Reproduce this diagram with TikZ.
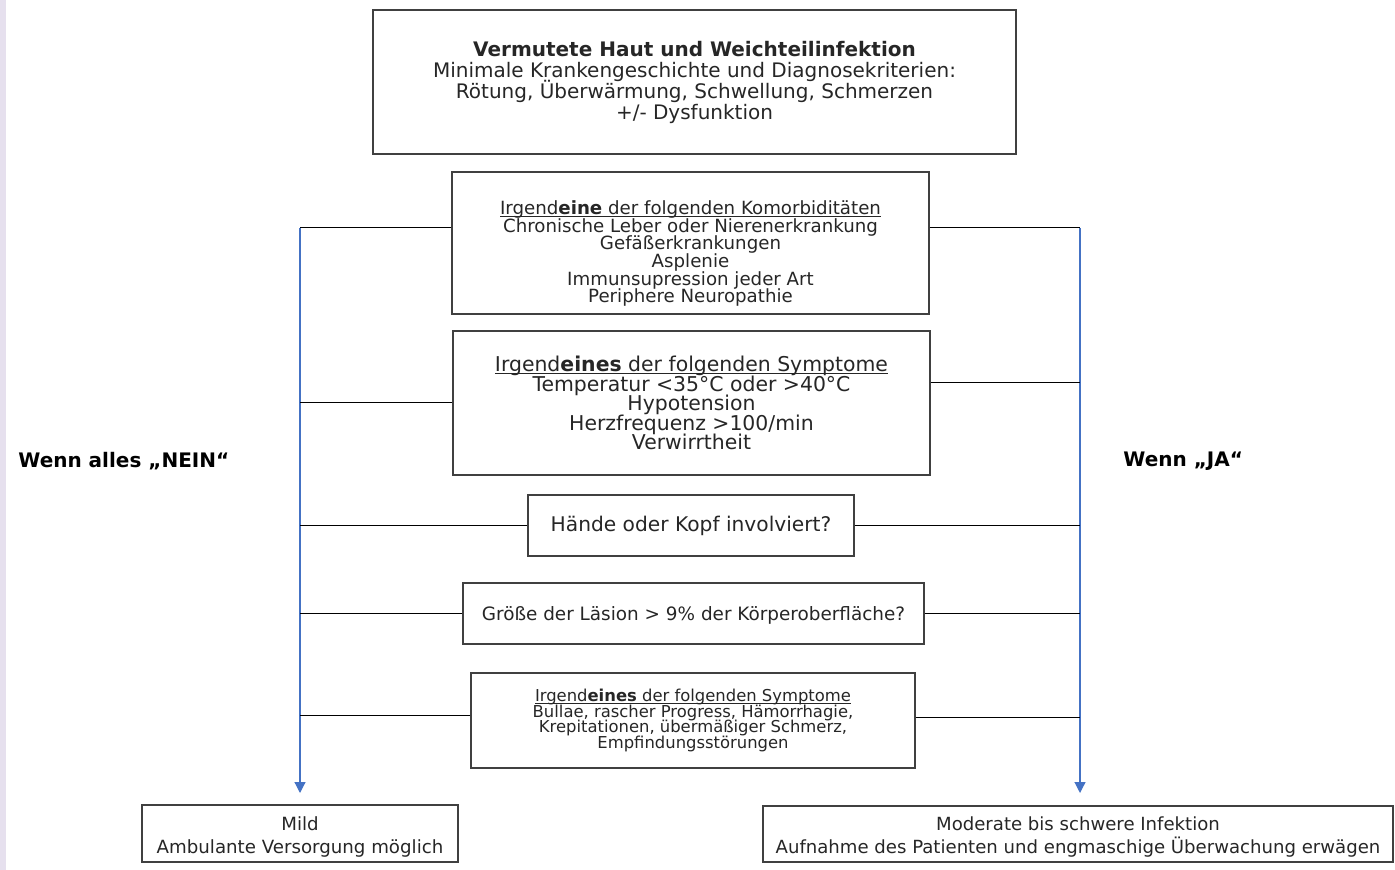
\documentclass[tikz,border=0pt]{standalone}
\usepackage{fontspec}
\setmainfont{DejaVu Sans}
\usetikzlibrary{arrows.meta,positioning}
\definecolor{arrblue}{HTML}{4472C4}
\definecolor{boxgray}{HTML}{404040}
\definecolor{sidebar}{HTML}{E6E0EE}
\setlength{\lineskiplimit}{-20pt}
\newcommand{\headul}[1]{\setbox0\hbox{#1}\rlap{\rule[-1.1pt]{\wd0}{0.5pt}}\box0}

\begin{document}
\begin{tikzpicture}[
  x=0.5pt,y=-0.5pt,
  box/.style={draw=boxgray,line width=0.7pt,align=center,inner sep=0pt,text=black!85},
  side/.style={font=\fontsize{10}{12}\selectfont\bfseries,inner sep=0pt,anchor=west},
  arr/.style={-{Triangle[length=5.5pt,width=5.5pt]},arrblue,line width=0.6pt},
  link/.style={black,line width=0.5pt}
]
\useasboundingbox (0,0) rectangle (1395,870);
\fill[sidebar] (0,0) rectangle (6,870);

% question boxes
\node[box,minimum width=321.5pt,minimum height=72pt,font=\fontsize{10}{10.5}\selectfont] (susp) at (694.5,82)
  {\textbf{Vermutete Haut und Weichteilinfektion}\\Minimale Krankengeschichte und Diagnosekriterien:\\Rötung, Überwärmung, Schwellung, Schmerzen\\+/- Dysfunktion};
\node[box,minimum width=238.5pt,minimum height=71pt,font=\fontsize{9.1}{8.8}\selectfont] (komorb) at (690.5,243)
  {\rule{0pt}{17.5pt}\headul{Irgend\textbf{eine} der folgenden Komorbiditäten}\\Chronische Leber oder Nierenerkrankung\\Gefäßerkrankungen\\Asplenie\\Immunsupression jeder Art\\Periphere Neuropathie};
\node[box,minimum width=238.5pt,minimum height=72pt,font=\fontsize{10.2}{9.7}\selectfont] (symp) at (691.5,403)
  {\headul{Irgend\textbf{eines} der folgenden Symptome}\\Temperatur <35°C oder >40°C\\Hypotension\\Herzfrequenz >100/min\\Verwirrtheit};
\node[box,minimum width=163pt,minimum height=30.5pt,font=\fontsize{10.1}{12}\selectfont] (hand) at (691,525.5)
  {Hände oder Kopf involviert?};
\node[box,minimum width=230.5pt,minimum height=30.5pt,font=\fontsize{9.2}{11}\selectfont] (size) at (693.5,613.5)
  {\rule{0pt}{9pt}Größe der Läsion > 9\% der Körperoberfläche?};
\node[box,minimum width=222pt,minimum height=47.5pt,font=\fontsize{8.2}{7.7}\selectfont] (necro) at (693,720.5)
  {\headul{Irgend\textbf{eines} der folgenden Symptome}\\Bullae, rascher Progress, Hämorrhagie,\\Krepitationen, übermäßiger Schmerz,\\Empfindungsstörungen};

% outcome boxes
\node[box,minimum width=158pt,minimum height=28.5pt,font=\fontsize{9.1}{11.5}\selectfont] (mild) at (300,833.5)
  {\rule{0pt}{10pt}Mild\\Ambulante Versorgung möglich};
\node[box,minimum width=315pt,minimum height=28pt,font=\fontsize{9.05}{11.5}\selectfont] (severe) at (1078,834)
  {\rule{0pt}{10pt}Moderate bis schwere Infektion\\Aufnahme des Patienten und engmaschige Überwachung erwägen};

% side labels
\node[side] (no) at (18,461) {Wenn alles „NEIN“};
\node[side] (yes) at (1123,461) {Wenn „JA“};

% collector lines
\coordinate (ltop) at (300,228);
\coordinate (lend) at (300,793);
\coordinate (rtop) at (1080,228);
\coordinate (rend) at (1080,793);
\draw[arr] (ltop) -- (lend);
\draw[arr] (rtop) -- (rend);

\draw[link] (komorb.west |- ltop) -- (ltop);
\draw[link] (symp.west) -- (symp.west -| ltop);
\draw[link] (hand.west) -- (hand.west -| ltop);
\draw[link] (size.west) -- (size.west -| ltop);
\draw[link] ([yshift=2.5pt]necro.west) -- ([yshift=2.5pt]necro.west -| ltop);

\draw[link] (komorb.east |- rtop) -- (rtop);
\draw[link] ([yshift=10pt]symp.east) -- ([yshift=10pt]symp.east -| rtop);
\draw[link] (hand.east) -- (hand.east -| rtop);
\draw[link] (size.east) -- (size.east -| rtop);
\draw[link] ([yshift=1.5pt]necro.east) -- ([yshift=1.5pt]necro.east -| rtop);
\end{tikzpicture}
\end{document}
